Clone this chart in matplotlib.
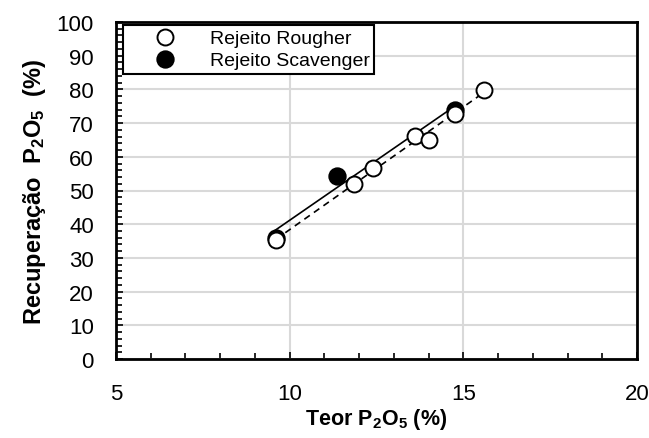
import numpy as np
import matplotlib
matplotlib.use("Agg")
import matplotlib.pyplot as plt
from matplotlib.ticker import MultipleLocator

plt.rcParams['font.family'] = ['Liberation Sans', 'DejaVu Sans']
plt.rcParams['mathtext.default'] = 'regular'

# Data
rougher_x = [9.6, 11.85, 12.4, 13.6, 14.0, 14.75, 15.6]
rougher_y = [35.2, 51.9, 56.6, 66.2, 65.1, 72.7, 79.7]
scav_x = [9.6, 11.35, 14.75]
scav_y = [36.0, 54.3, 73.8]

labels = ["Rejeito Rougher", "Rejeito Scavenger"]
xticks = [5, 10, 15, 20]
yticks = list(range(0, 101, 10))

fig = plt.figure(figsize=(6.49, 4.39), dpi=100)
ax = fig.add_axes([116/649, 1-360/439, (637-116)/649, (360-23)/439])

# trend lines
pr = np.polyfit(rougher_x, rougher_y, 1)
ps = np.polyfit(scav_x, scav_y, 1)
xr = np.array([min(rougher_x), max(rougher_x)])
xs = np.array([min(scav_x), max(scav_x)])
ax.plot(xr, np.polyval(pr, xr), color='black', lw=1.2, ls=(0, (4, 3)), zorder=3)
ax.plot(xs, np.polyval(ps, xs), color='black', lw=1.2, ls='-', zorder=3)

ax.plot(scav_x, scav_y, 'o', ms=12, mfc='black', mec='black', mew=1.2,
        ls='none', label=labels[1], zorder=4)
ax.plot(rougher_x, rougher_y, 'o', ms=11.5, mfc='white', mec='black', mew=1.4,
        ls='none', label=labels[0], zorder=5)

ax.set_xlim(5, 20)
ax.set_ylim(0, 100)
ax.set_xticks(xticks)
ax.set_yticks(yticks)
ax.xaxis.set_minor_locator(MultipleLocator(1))
ax.yaxis.set_minor_locator(MultipleLocator(2))

ax.tick_params(axis='both', which='both', direction='in', top=False, right=False)
ax.tick_params(axis='both', which='major', length=5, width=1.2, labelsize=16)
ax.tick_params(axis='both', which='minor', length=4, width=1.2)
ax.tick_params(axis='x', which='major', pad=17)
ax.tick_params(axis='y', which='major', pad=16)

for s in ax.spines.values():
    s.set_linewidth(2)
    s.set_color('black')

ax.grid(True, which='major', color='#d9d9d9', lw=1.5, zorder=0)
ax.set_axisbelow(True)

ax.set_xlabel('Teor P$_2$O$_5$ (%)', fontsize=15.5, fontweight='bold', labelpad=2)
ax.set_ylabel('Recuperação  P$_2$O$_5$  (%)', fontsize=17, fontweight='bold', labelpad=6)

h, l = ax.get_legend_handles_labels()
leg = ax.legend([h[1], h[0]], [l[1], l[0]], loc='upper left',
                bbox_to_anchor=(7/521, 1-3/337), borderaxespad=0,
                fontsize=14, frameon=True, fancybox=False, edgecolor='black',
                framealpha=1, borderpad=0.25, handlelength=3.8, handletextpad=0.4,
                labelspacing=0.22, numpoints=1)
leg.get_frame().set_linewidth(1.5)

fig.savefig('out.png', dpi=100)
